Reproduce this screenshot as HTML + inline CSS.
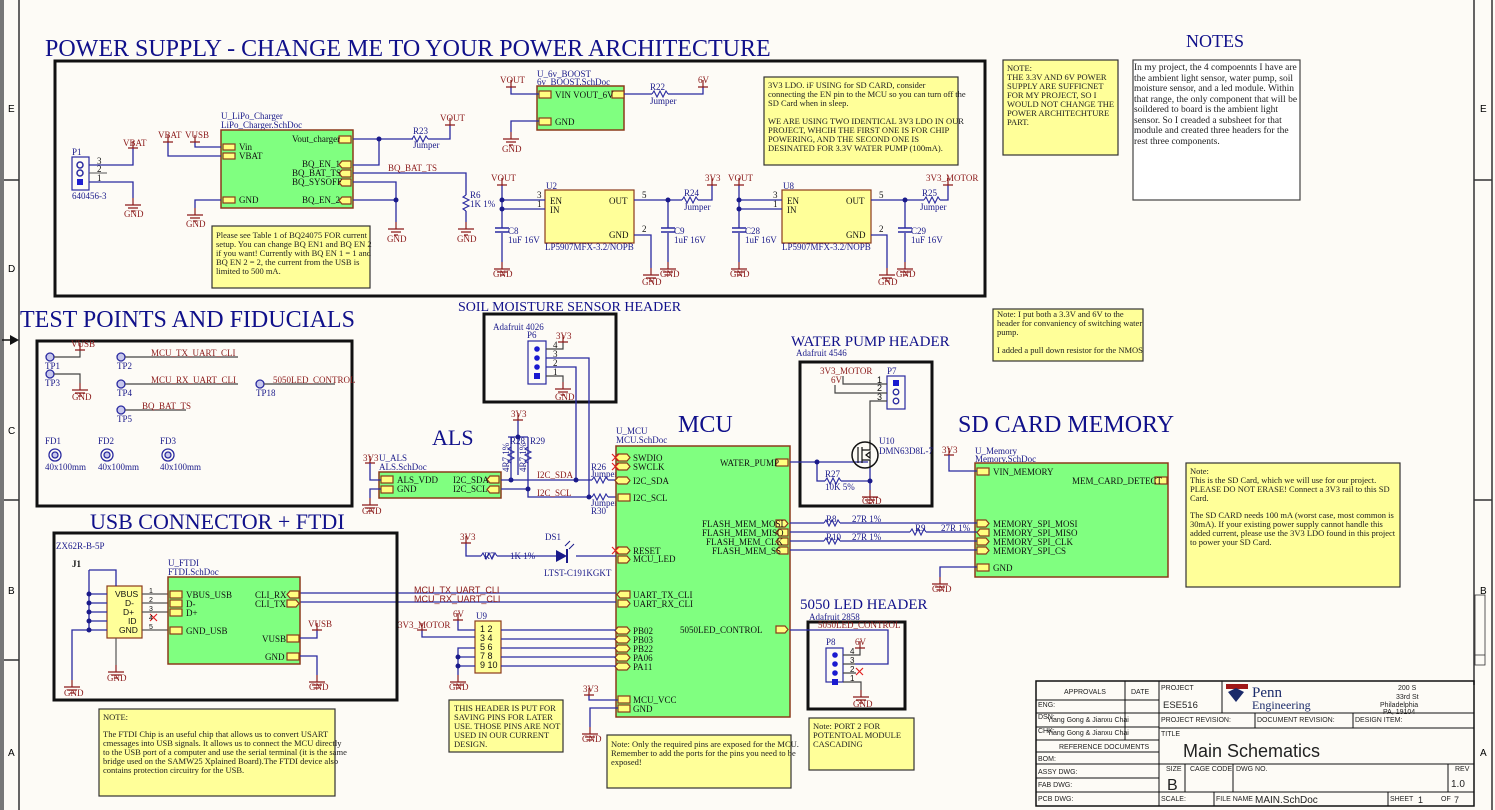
<!DOCTYPE html>
<html><head><meta charset="utf-8"><style>
html,body{margin:0;padding:0;background:#fdfbf6;}
svg{display:block}
text{font-family:"Liberation Serif",serif;}
.s,.s text{font-family:"Liberation Sans",sans-serif;}
.w{stroke:#2a2aa0;stroke-width:1.3;fill:none}
.r{stroke:#8b1a1a;stroke-width:1.2;fill:none}
.nl{fill:#8b1a1a;font-size:9px}
.bl{fill:#1a1a8a;font-size:9px}
.tt{fill:#10108a}
.cmp{fill:#80ff80;stroke:#8b3a1a;stroke-width:1.5}
.pin{fill:#ffff80;stroke:#8b3a1a;stroke-width:1.2}
.note{fill:#ffff99;stroke:#333;stroke-width:1.2}
.nt{fill:#222;font-size:8.5px}
.box{fill:none;stroke:#111;stroke-width:3}
.ic{fill:#ffff99;stroke:#8b3a1a;stroke-width:1.2}
.bk{fill:#111;font-size:9px}
</style></head><body>
<svg width="1495" height="810" viewBox="0 0 1495 810" xmlns="http://www.w3.org/2000/svg">
<defs>
<g id="g"><path d="M0 0V7M-8 7H8M-5 10H5M-2 13H2" stroke="#8b1a1a" stroke-width="1.2" fill="none"/></g>
<g id="p"><path d="M-5 0H5M0 0V7" stroke="#8b1a1a" stroke-width="1.2" fill="none"/></g>
<g id="res"><path d="M-8 0l2-3 3 6 3-6 3 6 3-6 2 3" stroke="#2a2aa0" stroke-width="1.1" fill="none"/></g>
<g id="rv"><path d="M0 -8l-3 2 6 3-6 3 6 3-6 3 3 2" stroke="#2a2aa0" stroke-width="1.1" fill="none"/></g>
<g id="cap"><path d="M-7 0H7M-7 4H7" stroke="#2a2aa0" stroke-width="1.5"/></g>
<g id="dot"><circle r="2.5" fill="#1a1a8a"/></g>
</defs>

<!-- frame -->
<rect x="0" y="0" width="4" height="810" fill="#777"/>
<path d="M19 0V810M1474 0V685M1492 0V810" stroke="#333" stroke-width="1.5"/>
<path d="M4 180H19M4 500H19M4 660H19M1474 180H1492M1474 500H1492" stroke="#333" stroke-width="1.5"/>
<path d="M2 340H14" stroke="#111" stroke-width="1.5"/><path d="M10 335L19 340L10 345Z" fill="#111"/>
<text class="s" x="8" y="112" font-size="10">E</text>
<text class="s" x="8" y="272" font-size="10">D</text>
<text class="s" x="8" y="434" font-size="10">C</text>
<text class="s" x="8" y="594" font-size="10">B</text>
<text class="s" x="8" y="756" font-size="10">A</text>
<text class="s" x="1480" y="112" font-size="10">E</text>
<text class="s" x="1480" y="594" font-size="10">B</text>
<text class="s" x="1480" y="756" font-size="10">A</text>
<rect x="1475" y="595" width="10" height="70" fill="none" stroke="#333" stroke-width="0.8"/>
<path d="M1475 655H1485" stroke="#333" stroke-width="0.8"/>

<!-- POWER SUPPLY -->
<text class="tt" x="45" y="56" font-size="24">POWER SUPPLY - CHANGE ME TO YOUR POWER ARCHITECTURE</text>
<rect class="box" x="55" y="61" width="930" height="235"/>
<text class="bl" x="72" y="155">P1</text>
<rect x="72" y="157" width="17" height="33" fill="none" stroke="#2a2aa0" stroke-width="1.2"/>
<circle cx="80" cy="165" r="3" fill="none" stroke="#2a2aa0" stroke-width="1.5"/>
<circle cx="80" cy="173" r="3" fill="none" stroke="#2a2aa0" stroke-width="1.5"/>
<rect x="77" y="179" width="6" height="6" fill="#2020d0"/>
<text class="bk" x="97" y="164" font-size="8">3</text><text class="bk" x="97" y="172" font-size="8">2</text><text class="bk" x="97" y="181" font-size="8">1</text>
<text class="bl" x="72" y="199" font-size="8">640456-3</text>
<path class="w" d="M89 165H133V148M89 182H133V198"/><path d="M89 173H107" stroke="#555"/>
<use href="#p" x="133" y="148" transform="rotate(180 133 148)"/>
<text class="nl" x="123" y="146">VBAT</text>
<use href="#g" x="133" y="198"/><text class="nl" x="124" y="217">GND</text>
<text class="bl" x="221" y="119">U_LiPo_Charger</text>
<text class="bl" x="221" y="128">LiPo_Charger.SchDoc</text>
<rect class="cmp" x="221" y="130" width="132" height="78"/>
<rect class="pin" x="223" y="144" width="12" height="6"/><rect class="pin" x="223" y="153" width="12" height="6"/>
<rect class="pin" x="223" y="197" width="12" height="6"/>
<rect class="pin" x="339" y="136" width="12" height="7"/>
<path class="pin" d="M342 161h9v7h-9l-3-3.5z"/><path class="pin" d="M342 170h9v7h-9l-3-3.5z"/><path class="pin" d="M342 179h9v7h-9l-3-3.5z"/><path class="pin" d="M342 197h9v7h-9l-3-3.5z"/>
<text class="bk" x="239" y="150">Vin</text><text class="bk" x="239" y="159">VBAT</text><text class="bk" x="239" y="203">GND</text>
<text class="bk" x="292" y="142">Vout_charger</text>
<text class="bk" x="302" y="167">BQ_EN_1</text><text class="bk" x="292" y="176">BQ_BAT_TS</text><text class="bk" x="292" y="185">BQ_SYSOFF</text><text class="bk" x="302" y="203">BQ_EN_2</text>
<path class="w" d="M168 142V156H221M195 142V147H221M221 200H195V208M353 139H413M379 139V165H353M353 173H466V195M353 182H396V222M353 200H396M428 139H450V125"/>
<use href="#dot" x="379" y="139"/><use href="#dot" x="396" y="200"/>
<use href="#p" x="168" y="142" transform="rotate(180 168 142)"/><text class="nl" x="158" y="138">VBAT</text>
<use href="#p" x="195" y="142" transform="rotate(180 195 142)"/><text class="nl" x="185" y="138">VUSB</text>
<use href="#g" x="195" y="208"/><text class="nl" x="186" y="227">GND</text>
<use href="#res" x="420" y="139"/><text class="bl" x="413" y="134">R23</text><text class="bl" x="413" y="148">Jumper</text>
<use href="#p" x="450" y="125" transform="rotate(180 450 125)"/><text class="nl" x="440" y="121">VOUT</text>
<text class="nl" x="388" y="171">BQ_BAT_TS</text>
<use href="#rv" x="466" y="203"/><path class="w" d="M466 211V222"/><text class="bl" x="470" y="198">R6</text><text class="bl" x="470" y="207">1K 1%</text>
<use href="#g" x="466" y="222"/><text class="nl" x="457" y="242">GND</text>
<use href="#g" x="396" y="222"/><text class="nl" x="387" y="242">GND</text>
<rect class="note" x="212" y="226" width="158" height="62"/>
<text class="nt" x="216" y="238">Please see Table 1 of BQ24075 FOR current</text>
<text class="nt" x="216" y="247">setup. You can change BQ EN1 and BQ EN 2</text>
<text class="nt" x="216" y="256">if you want! Currently with BQ EN 1 = 1 and</text>
<text class="nt" x="216" y="265">BQ EN 2 = 2, the current from the USB is</text>
<text class="nt" x="216" y="274">limited to 500 mA.</text>
<text class="bl" x="537" y="77">U_6v_BOOST</text><text class="bl" x="537" y="85">6v_BOOST.SchDoc</text>
<rect class="cmp" x="537" y="86" width="87" height="44"/>
<rect class="pin" x="539" y="91" width="12" height="7"/><rect class="pin" x="612" y="91" width="12" height="7"/><rect class="pin" x="539" y="118" width="12" height="7"/>
<text class="bk" x="555" y="98">VIN  VOUT_6V</text><text class="bk" x="555" y="125">GND</text>
<path class="w" d="M511 87V94H539M624 94H652M668 94H703V87M539 121H511V132"/>
<use href="#p" x="511" y="87" transform="rotate(180 511 87)"/><text class="nl" x="500" y="83">VOUT</text>
<use href="#res" x="660" y="94"/><text class="bl" x="650" y="90">R22</text><text class="bl" x="650" y="104">Jumper</text>
<use href="#p" x="703" y="87" transform="rotate(180 703 87)"/><text class="nl" x="698" y="83">6V</text>
<use href="#g" x="511" y="132"/><text class="nl" x="502" y="152">GND</text>
<rect class="note" x="764" y="77" width="194" height="88"/>
<text class="nt" x="768" y="88">3V3  LDO. iF USING for SD CARD, consider</text>
<text class="nt" x="768" y="97">connecting the EN pin to the MCU so you can turn off the</text>
<text class="nt" x="768" y="106">SD Card when in sleep.</text>
<text class="nt" x="768" y="124">WE ARE USING TWO IDENTICAL 3V3 LDO IN OUR</text>
<text class="nt" x="768" y="133">PROJECT, WHCIH THE FIRST ONE IS FOR CHIP</text>
<text class="nt" x="768" y="142">POWERING, AND THE SECOND ONE IS</text>
<text class="nt" x="768" y="151">DESINATED FOR 3.3V WATER PUMP (100mA).</text>
<rect class="ic" x="545" y="190" width="89" height="53"/>
<text class="bl" x="546" y="189">U2</text>
<text class="bk" x="550" y="204">EN</text><text class="bk" x="550" y="213">IN</text><text class="bk" x="609" y="204">OUT</text><text class="bk" x="609" y="238">GND</text>
<text class="bl" x="545" y="250">LP5907MFX-3.2/NOPB</text>
<text class="bk" x="537" y="198" font-size="8">3</text><text class="bk" x="537" y="207" font-size="8">1</text><text class="bk" x="642" y="198" font-size="8">5</text><text class="bk" x="642" y="232" font-size="8">2</text>
<path class="w" d="M502 185V200H545M502 209H545M502 200V228M502 233V262M634 200H682M698 200H712V185M668 200V228M668 233V262M634 235H651V268"/>
<use href="#dot" x="502" y="200"/><use href="#dot" x="502" y="209"/><use href="#dot" x="668" y="200"/>
<use href="#p" x="502" y="185" transform="rotate(180 502 185)"/><text class="nl" x="491" y="181">VOUT</text>
<use href="#cap" x="502" y="228"/><text class="bl" x="508" y="234">C8</text><text class="bl" x="508" y="243">1uF 16V</text>
<use href="#cap" x="668" y="228"/><text class="bl" x="674" y="234">C9</text><text class="bl" x="674" y="243">1uF 16V</text>
<use href="#res" x="690" y="200"/><text class="bl" x="684" y="196">R24</text><text class="bl" x="684" y="210">Jumper</text>
<use href="#p" x="712" y="185" transform="rotate(180 712 185)"/><text class="nl" x="705" y="181">3V3</text>
<use href="#g" x="502" y="262"/><text class="nl" x="493" y="277">GND</text>
<use href="#g" x="668" y="262"/><text class="nl" x="660" y="277">GND</text>
<use href="#g" x="651" y="268"/><text class="nl" x="642" y="285">GND</text>
<rect class="ic" x="782" y="190" width="89" height="53"/>
<text class="bl" x="783" y="189">U8</text>
<text class="bk" x="787" y="204">EN</text><text class="bk" x="787" y="213">IN</text><text class="bk" x="846" y="204">OUT</text><text class="bk" x="846" y="238">GND</text>
<text class="bl" x="782" y="250">LP5907MFX-3.2/NOPB</text>
<text class="bk" x="773" y="198" font-size="8">3</text><text class="bk" x="773" y="207" font-size="8">1</text><text class="bk" x="879" y="198" font-size="8">5</text><text class="bk" x="879" y="232" font-size="8">2</text>
<path class="w" d="M739 185V200H782M739 209H782M739 200V228M739 233V262M871 200H924M940 200H948V185M905 200V228M905 233V262M871 235H887V268"/>
<use href="#dot" x="739" y="200"/><use href="#dot" x="739" y="209"/><use href="#dot" x="905" y="200"/>
<use href="#p" x="739" y="185" transform="rotate(180 739 185)"/><text class="nl" x="728" y="181">VOUT</text>
<use href="#cap" x="739" y="228"/><text class="bl" x="745" y="234">C28</text><text class="bl" x="745" y="243">1uF 16V</text>
<use href="#cap" x="905" y="228"/><text class="bl" x="911" y="234">C29</text><text class="bl" x="911" y="243">1uF 16V</text>
<use href="#res" x="932" y="200"/><text class="bl" x="922" y="196">R25</text><text class="bl" x="920" y="210">Jumper</text>
<use href="#p" x="948" y="185" transform="rotate(180 948 185)"/><text class="nl" x="926" y="181">3V3_MOTOR</text>
<use href="#g" x="739" y="262"/><text class="nl" x="730" y="277">GND</text>
<use href="#g" x="905" y="262"/><text class="nl" x="896" y="277">GND</text>
<use href="#g" x="887" y="268"/><text class="nl" x="878" y="285">GND</text>

<!-- NOTES -->
<rect class="note" x="1003" y="60" width="115" height="95"/>
<text class="nt" x="1007" y="71">NOTE:</text>
<text class="nt" x="1007" y="80">THE 3.3V AND 6V POWER</text>
<text class="nt" x="1007" y="89">SUPPLY ARE SUFFICNET</text>
<text class="nt" x="1007" y="98">FOR MY PROJECT, SO I</text>
<text class="nt" x="1007" y="107">WOULD NOT CHANGE THE</text>
<text class="nt" x="1007" y="116">POWER ARCHITECHTURE</text>
<text class="nt" x="1007" y="125">PART.</text>
<text class="tt" x="1186" y="47" font-size="18">NOTES</text>
<rect x="1133" y="60" width="167" height="140" fill="#fff" stroke="#444" stroke-width="1.2"/>
<g class="nt"><text x="1134" y="70" font-size="9.5">In my project, the 4 compoennts I have are</text>
<text x="1134" y="81" font-size="9.5">the ambient light sensor, water pump, soil</text>
<text x="1134" y="91" font-size="9.5">moisture sensor, and a led module. Within</text>
<text x="1134" y="102" font-size="9.5">that range, the only component that will be</text>
<text x="1134" y="112" font-size="9.5">soildered to board is the ambient light</text>
<text x="1134" y="123" font-size="9.5">sensor. So I creaded a subsheet for that</text>
<text x="1134" y="133" font-size="9.5">module and created three headers for the</text>
<text x="1134" y="144" font-size="9.5">rest three components.</text></g>

<!-- TEST POINTS -->
<text class="tt" x="20" y="327" font-size="24">TEST POINTS AND FIDUCIALS</text>
<rect class="box" x="37" y="341" width="315" height="165"/>
<g fill="none" stroke="#2a2aa0" stroke-width="1.3">
<circle cx="50" cy="357" r="4" fill="#c8c8ec"/><circle cx="50" cy="374" r="4" fill="#c8c8ec"/>
<circle cx="121" cy="357" r="4" fill="#c8c8ec"/><circle cx="121" cy="384" r="4" fill="#c8c8ec"/><circle cx="121" cy="410" r="4" fill="#c8c8ec"/>
<circle cx="260" cy="384" r="4" fill="#c8c8ec"/>
<circle cx="55" cy="455" r="6"/><circle cx="55" cy="455" r="3" fill="#c8c8ec"/>
<circle cx="107" cy="455" r="6"/><circle cx="107" cy="455" r="3" fill="#c8c8ec"/>
<circle cx="168" cy="455" r="6"/><circle cx="168" cy="455" r="3" fill="#c8c8ec"/>
</g>
<path d="M54 357H80V350M54 374H80V383M125 357H238M125 384H238M125 410H186M264 384H335" stroke="#444" stroke-width="1.2" fill="none"/>
<use href="#p" x="80" y="350" transform="rotate(180 80 350)"/><text class="nl" x="71" y="347">VUSB</text>
<use href="#g" x="80" y="383"/><text class="nl" x="72" y="400">GND</text>
<text class="bl" x="45" y="369">TP1</text><text class="bl" x="45" y="386">TP3</text><text class="bl" x="117" y="369">TP2</text><text class="bl" x="117" y="396">TP4</text><text class="bl" x="117" y="422">TP5</text><text class="bl" x="256" y="396">TP18</text>
<text class="nl" x="151" y="356">MCU_TX_UART_CLI</text><text class="nl" x="151" y="383">MCU_RX_UART_CLI</text><text class="nl" x="142" y="409">BQ_BAT_TS</text><text class="nl" x="273" y="383">5050LED_CONTROL</text>
<text class="bl" x="45" y="444">FD1</text><text class="bl" x="98" y="444">FD2</text><text class="bl" x="160" y="444">FD3</text>
<text class="bl" x="45" y="470">40x100mm</text><text class="bl" x="98" y="470">40x100mm</text><text class="bl" x="160" y="470">40x100mm</text>

<!-- SOIL -->
<text class="tt" x="458" y="311" font-size="14">SOIL MOISTURE SENSOR HEADER</text>
<rect class="box" x="484" y="314" width="132" height="88"/>
<text class="bl" x="493" y="330">Adafruit 4026</text><text class="bl" x="527" y="338">P6</text>
<rect x="528" y="341" width="18" height="43" fill="none" stroke="#2a2aa0" stroke-width="1.2"/>
<circle cx="537" cy="349" r="2.8" fill="#1a1ad0"/><circle cx="537" cy="358" r="2.8" fill="#1a1ad0"/><circle cx="537" cy="367" r="2.8" fill="#1a1ad0"/><rect x="534" y="373" width="6" height="6" fill="#1a1ad0"/>
<text class="bk" x="553" y="348" font-size="8">4</text><text class="bk" x="553" y="357" font-size="8">3</text><text class="bk" x="553" y="366" font-size="8">2</text><text class="bk" x="553" y="375" font-size="8">1</text>
<path d="M546 349H563V342M546 376H563V382" stroke="#444" stroke-width="1.2" fill="none"/>
<path class="w" d="M546 358H589V497M546 367H576V480"/>
<use href="#p" x="563" y="342" transform="rotate(180 563 342)"/><text class="nl" x="556" y="339">3V3</text>
<use href="#g" x="563" y="382"/><text class="nl" x="555" y="400">GND</text>

<!-- ALS -->
<text class="tt" x="432" y="445" font-size="22">ALS</text>
<text class="bl" x="379" y="461">U_ALS</text><text class="bl" x="379" y="470">ALS.SchDoc</text>
<use href="#p" x="370" y="463" transform="rotate(180 370 463)"/><text class="nl" x="363" y="461">3V3</text>
<rect class="cmp" x="379" y="472" width="122" height="26"/>
<rect class="pin" x="381" y="476" width="12" height="7"/><rect class="pin" x="381" y="486" width="12" height="7"/>
<path class="pin" d="M490 476h9v7h-9l-3-3.5z"/><path class="pin" d="M490 486h9v7h-9l-3-3.5z"/>
<text class="bk" x="397" y="483">ALS_VDD</text><text class="bk" x="397" y="492">GND</text><text class="bk" x="453" y="483">I2C_SDA</text><text class="bk" x="453" y="492">I2C_SCL</text>
<path class="w" d="M370 463V480H381M381 489H370V498M501 480H592M608 480H616M501 489H528V497H592M608 497H616M518 437V475M528 437V489M508 437H528M518 420V437"/>
<use href="#dot" x="511" y="480"/><use href="#dot" x="528" y="489"/><use href="#dot" x="576" y="480"/><use href="#dot" x="589" y="497"/><use href="#dot" x="518" y="437"/>
<path class="w" d="M511 437V480"/>
<use href="#rv" x="511" y="455"/><use href="#rv" x="528" y="455"/>
<use href="#g" x="370" y="498"/><text class="nl" x="362" y="514">GND</text>
<use href="#p" x="518" y="420" transform="rotate(180 518 420)"/><text class="nl" x="511" y="417">3V3</text>
<text class="bl" x="510" y="444">R28</text><text class="bl" x="530" y="444">R29</text>
<text class="bl" x="509" y="472" transform="rotate(-90 509 472)">4R7 1%</text><text class="bl" x="526" y="472" transform="rotate(-90 526 472)">4R7 1%</text>
<text class="nl" x="537" y="478">I2C_SDA</text><text class="nl" x="537" y="496">I2C_SCL</text>
<use href="#res" x="600" y="480"/><use href="#res" x="600" y="497"/>
<text class="bl" x="591" y="470">R26</text><text class="bl" x="591" y="477">Jumper</text><text class="bl" x="591" y="506">Jumper</text><text class="bl" x="591" y="514">R30</text>

<!-- MCU -->
<text class="tt" x="678" y="432" font-size="24">MCU</text>
<text class="bl" x="616" y="434">U_MCU</text><text class="bl" x="616" y="443">MCU.SchDoc</text>
<rect class="cmp" x="616" y="446" width="174" height="271"/>
<g class="pin">
<path d="M618 454h9l3 3.5-3 3.5h-9l-3-3.5z"/><path d="M618 463h9l3 3.5-3 3.5h-9l-3-3.5z"/>
<path d="M618 477h9l3 3.5-3 3.5h-9l-3-3.5z"/><rect x="618" y="494" width="12" height="7"/>
<path d="M618 547h9l3 3.5-3 3.5h-9l-3-3.5z"/><path d="M618 556h9l3 3.5-3 3.5h-9z"/>
<path d="M620 591h10v7h-10l-3-3.5z"/><path d="M618 600h9l3 3.5-3 3.5h-9z"/>
<path d="M618 627h9l3 3.5-3 3.5h-9l-3-3.5z"/><path d="M618 636h9l3 3.5-3 3.5h-9l-3-3.5z"/><path d="M618 645h9l3 3.5-3 3.5h-9l-3-3.5z"/><path d="M618 654h9l3 3.5-3 3.5h-9l-3-3.5z"/><path d="M618 663h9l3 3.5-3 3.5h-9l-3-3.5z"/>
<rect x="618" y="696" width="12" height="7"/><rect x="618" y="705" width="12" height="7"/>
<rect x="776" y="459" width="12" height="7"/>
<path d="M776 520h9l3 3.5-3 3.5h-9z"/><path d="M779 529h9v7h-9l-3-3.5z"/><path d="M779 538h9v7h-9l-3-3.5z"/><path d="M779 547h9v7h-9l-3-3.5z"/>
<path d="M776 626h9l3 3.5-3 3.5h-9z"/>
</g>
<g class="bk"><text x="633" y="461">SWDIO</text><text x="633" y="470">SWCLK</text><text x="633" y="484">I2C_SDA</text><text x="633" y="501">I2C_SCL</text>
<text x="633" y="554">RESET</text><text x="633" y="562">MCU_LED</text><text x="633" y="598">UART_TX_CLI</text><text x="633" y="607">UART_RX_CLI</text>
<text x="633" y="634">PB02</text><text x="633" y="643">PB03</text><text x="633" y="652">PB22</text><text x="633" y="661">PA06</text><text x="633" y="670">PA11</text>
<text x="633" y="703">MCU_VCC</text><text x="633" y="712">GND</text>
<text x="720" y="466">WATER_PUMP</text><text x="702" y="527">FLASH_MEM_MOSI</text><text x="702" y="536">FLASH_MEM_MISO</text><text x="706" y="545">FLASH_MEM_CLK</text><text x="712" y="554">FLASH_MEM_SS</text><text x="680" y="633">5050LED_CONTROL</text></g>
<g stroke="#e02020" stroke-width="1.2"><path d="M612 454l7 7M619 454l-7 7M612 463l7 7M619 463l-7 7M612 547l7 7M619 547l-7 7M1155 477l7 7M1162 477l-7 7M150 614l7 7M157 614l-7 7M856 668l7 7M863 668l-7 7"/></g>
<path class="w" d="M466 543V556H481M497 556H556M576 556H616"/>
<use href="#p" x="466" y="543" transform="rotate(180 466 543)"/><text class="nl" x="460" y="540">3V3</text>
<use href="#res" x="489" y="556"/><text class="bl" x="484" y="559">R7</text><text class="bl" x="510" y="559">1K 1%</text>
<path d="M556 550L567 556L556 562Z" fill="#1a1a8a"/><path d="M567 549V563" stroke="#1a1a8a" stroke-width="2"/>
<path d="M565 546l5-5M569 549l5-5" stroke="#1a1a8a"/>
<text class="bl" x="545" y="540">DS1</text><text class="bl" x="544" y="576">LTST-C191KGKT</text>
<path class="w" d="M300 593H616M300 602H616"/>
<text class="nl s" x="414" y="593" font-size="8.5">MCU_TX_UART_CLI</text><text class="nl s" x="414" y="602" font-size="8.5">MCU_RX_UART_CLI</text>
<rect class="ic" x="475" y="621" width="26" height="52"/>
<text class="bl" x="476" y="619">U9</text>
<g class="bk s"><text x="480" y="632" font-size="9">1  2</text><text x="480" y="641" font-size="9">3  4</text><text x="480" y="650" font-size="9">5  6</text><text x="480" y="659" font-size="9">7  8</text><text x="480" y="668" font-size="9">9 10</text></g>
<path class="w" d="M501 630H616M501 639H616M501 648H616M501 657H616M501 666H616M475 637H422V630M475 648H458V675M475 657H458M475 666H458"/>
<path class="w" d="M475 630H458V620"/>
<use href="#dot" x="458" y="657"/><use href="#dot" x="458" y="666"/>
<use href="#p" x="458" y="620" transform="rotate(180 458 620)"/><text class="nl" x="453" y="617">6V</text>
<use href="#p" x="422" y="630" transform="rotate(180 422 630)"/><text class="nl" x="398" y="628">3V3_MOTOR</text>
<use href="#g" x="458" y="675"/><text class="nl" x="449" y="690">GND</text>
<path class="w" d="M589 695V700H618M618 708H590V727"/>
<use href="#p" x="589" y="695" transform="rotate(180 589 695)"/><text class="nl" x="583" y="692">3V3</text>
<use href="#g" x="590" y="727"/><text class="nl" x="582" y="742">GND</text>
<rect class="note" x="449" y="700" width="114" height="52"/>
<text class="nt" x="454" y="711">THIS HEADER IS PUT FOR</text><text class="nt" x="454" y="720">SAVING PINS FOR LATER</text><text class="nt" x="454" y="729">USE. THOSE PINS ARE NOT</text><text class="nt" x="454" y="738">USED IN OUR CURRENT</text><text class="nt" x="454" y="747">DESIGN.</text>
<rect class="note" x="607" y="735" width="184" height="53"/>
<text class="nt" x="611" y="747">Note: Only the required pins are exposed for the MCU.</text><text class="nt" x="611" y="756">Remember to add the ports for the pins you need to be</text><text class="nt" x="611" y="765">exposed!</text>

<!-- WATER PUMP -->
<text class="tt" x="791" y="346" font-size="15">WATER PUMP HEADER</text>
<text class="bl" x="796" y="356">Adafruit 4546</text>
<rect class="box" x="800" y="362" width="132" height="144"/>
<text class="nl" x="820" y="374">3V3_MOTOR</text><text class="nl" x="831" y="383">6V</text><text class="bl" x="887" y="374">P7</text>
<rect x="887" y="376" width="18" height="33" fill="none" stroke="#2a2aa0" stroke-width="1.2"/>
<rect x="893" y="380" width="6" height="6" fill="#1a1ad0"/><circle cx="896" cy="392" r="2.8" fill="none" stroke="#2a2aa0" stroke-width="1.3"/><circle cx="896" cy="401" r="2.8" fill="none" stroke="#2a2aa0" stroke-width="1.3"/>
<text class="bk s" x="877" y="383" font-size="8">1</text><text class="bk s" x="877" y="391" font-size="8">2</text><text class="bk s" x="877" y="400" font-size="8">3</text>
<path d="M843 376V384H887M835 385V393H887M887 401H870V440" stroke="#444" stroke-width="1.2" fill="none"/>
<path class="w" d="M790 462H868M817 462V481H825M841 481H870V468M870 481V490"/>
<use href="#dot" x="817" y="462"/><use href="#dot" x="870" y="481"/>
<circle cx="865" cy="455" r="13" fill="none" stroke="#111" stroke-width="1.5"/>
<path d="M858 447V463M862 447V463M862 450H870V440M862 460H870V468M866 455l4-3v6z" stroke="#111" stroke-width="1.2" fill="none"/>
<text class="bl" x="879" y="444">U10</text><text class="bl" x="879" y="454">DMN63D8L-7</text>
<use href="#res" x="833" y="481"/><text class="bl" x="825" y="477">R27</text><text class="bl" x="825" y="490">10K 5%</text>
<use href="#g" x="870" y="490"/><text class="nl" x="862" y="504">GND</text>
<rect class="note" x="993" y="309" width="150" height="52"/>
<text class="nt" x="997" y="317">Note: I put both a 3.3V and 6V to the</text><text class="nt" x="997" y="326">header for convaniency of switching water</text><text class="nt" x="997" y="335">pump.</text><text class="nt" x="997" y="353">I added a pull down resistor for the NMOS</text>

<!-- SD CARD -->
<text class="tt" x="958" y="432" font-size="24">SD CARD MEMORY</text>
<text class="bl" x="975" y="454">U_Memory</text><text class="bl" x="975" y="462">Memory.SchDoc</text>
<use href="#p" x="949" y="455" transform="rotate(180 949 455)"/><text class="nl" x="942" y="453">3V3</text>
<rect class="cmp" x="975" y="463" width="193" height="114"/>
<rect class="pin" x="977" y="468" width="12" height="7"/><rect class="pin" x="1155" y="477" width="12" height="7"/><rect class="pin" x="977" y="564" width="12" height="7"/>
<g class="pin"><path d="M977 520h9l3 3.5-3 3.5h-9z"/><path d="M980 529h9v7h-9l-3-3.5z"/><path d="M977 538h9l3 3.5-3 3.5h-9z"/><path d="M977 547h9l3 3.5-3 3.5h-9z"/></g>
<g class="bk"><text x="993" y="475">VIN_MEMORY</text><text x="1072" y="484">MEM_CARD_DETECT</text><text x="993" y="527">MEMORY_SPI_MOSI</text><text x="993" y="536">MEMORY_SPI_MISO</text><text x="993" y="545">MEMORY_SPI_CLK</text><text x="993" y="554">MEMORY_SPI_CS</text><text x="993" y="571">GND</text></g>
<path class="w" d="M949 455V471H977M790 523H824M840 523H977M790 532H910M926 532H977M790 541H824M840 541H977M790 550H977M977 567H940V577"/>
<use href="#res" x="832" y="523"/><use href="#res" x="918" y="532"/><use href="#res" x="832" y="541"/>
<text class="bl" x="826" y="522">R8</text><text class="bl" x="852" y="522">27R 1%</text><text class="bl" x="915" y="531">R9</text><text class="bl" x="941" y="531">27R 1%</text><text class="bl" x="826" y="540">R10</text><text class="bl" x="852" y="540">27R 1%</text>
<use href="#g" x="940" y="577"/><text class="nl" x="932" y="592">GND</text>
<rect class="note" x="1186" y="463" width="214" height="124"/>
<text class="nt" x="1190" y="474">Note:</text><text class="nt" x="1190" y="483">This is the SD Card, which we will use for our project.</text><text class="nt" x="1190" y="492">PLEASE DO NOT ERASE! Connect a 3V3 rail to this SD</text><text class="nt" x="1190" y="501">Card.</text>
<text class="nt" x="1190" y="518">The SD CARD needs 100 mA (worst case, most common is</text><text class="nt" x="1190" y="527">30mA). If your existing power supply cannot handle this</text><text class="nt" x="1190" y="536">added current, please use the 3V3 LDO found in this project</text><text class="nt" x="1190" y="545">to power your SD Card.</text>

<!-- 5050 LED -->
<text class="tt" x="800" y="609" font-size="15">5050 LED HEADER</text>
<text class="bl" x="809" y="620">Adafruit 2858</text>
<rect class="box" x="808" y="622" width="97" height="87"/>
<text class="nl" x="818" y="628">5050LED_CONTROL</text>
<path class="w" d="M790 630H888V664H855"/>
<text class="bl" x="826" y="645">P8</text>
<rect x="826" y="648" width="17" height="34" fill="none" stroke="#2a2aa0" stroke-width="1.2"/>
<circle cx="835" cy="655" r="2.8" fill="#1a1ad0"/><circle cx="835" cy="664" r="2.8" fill="#1a1ad0"/><circle cx="835" cy="673" r="2.8" fill="#1a1ad0"/><rect x="832" y="679" width="6" height="6" fill="#1a1ad0"/>
<g class="bk s"><text x="850" y="654" font-size="8">4</text><text x="850" y="663" font-size="8">3</text><text x="850" y="672" font-size="8">2</text><text x="850" y="681" font-size="8">1</text></g>
<path d="M843 655H860V648M843 664H855M843 673H856M843 682H861V690" stroke="#444" stroke-width="1.2" fill="none"/>
<use href="#p" x="860" y="648" transform="rotate(180 860 648)"/><text class="nl" x="855" y="645">6V</text>
<use href="#g" x="861" y="690"/><text class="nl" x="853" y="707">GND</text>
<rect class="note" x="809" y="718" width="105" height="52"/>
<text class="nt" x="813" y="729">Note: PORT 2 FOR</text><text class="nt" x="813" y="738">POTENTOAL MODULE</text><text class="nt" x="813" y="747">CASCADING</text>

<!-- USB -->
<text class="tt" x="90" y="529" font-size="22">USB CONNECTOR + FTDI</text>
<rect class="box" x="54" y="533" width="343" height="167"/>
<text class="bl" x="56" y="549">ZX62R-B-5P</text><text class="bk" x="72" y="567" font-weight="bold">J1</text>
<rect class="ic" x="107" y="586" width="35" height="52"/>
<g class="bk s"><text x="115" y="597" font-size="8.5">VBUS</text><text x="125" y="606" font-size="8.5">D-</text><text x="123" y="615" font-size="8.5">D+</text><text x="128" y="624" font-size="8.5">ID</text><text x="119" y="633" font-size="8.5">GND</text></g>
<g class="bk s"><text x="149" y="593" font-size="7">1</text><text x="149" y="602" font-size="7">2</text><text x="149" y="611" font-size="7">3</text><text x="149" y="620" font-size="7">4</text><text x="149" y="629" font-size="7">5</text></g>
<path class="w" d="M89 570H116V586M89 570V630M89 594H107M89 603H107M89 612H107M89 621H107M89 630H107M89 630H72V680"/>
<use href="#dot" x="89" y="594"/><use href="#dot" x="89" y="603"/><use href="#dot" x="89" y="612"/><use href="#dot" x="89" y="621"/><use href="#dot" x="89" y="630"/>
<path d="M142 594H170M142 603H170M142 612H170M142 630H170M116 638V665" stroke="#555" stroke-width="1.2"/>
<use href="#g" x="116" y="665"/><text class="nl" x="107" y="681">GND</text>
<use href="#g" x="72" y="680"/><text class="nl" x="64" y="696">GND</text>
<text class="bl" x="168" y="566">U_FTDI</text><text class="bl" x="168" y="575">FTDI.SchDoc</text>
<rect class="cmp" x="168" y="577" width="132" height="87"/>
<rect class="pin" x="170" y="591" width="12" height="7"/><rect class="pin" x="170" y="600" width="12" height="7"/><rect class="pin" x="170" y="609" width="12" height="7"/><rect class="pin" x="170" y="627" width="12" height="7"/>
<path class="pin" d="M290 591h9v7h-9l-3-3.5z"/><path class="pin" d="M287 600h9l3 3.5-3 3.5h-9z"/>
<rect class="pin" x="287" y="635" width="12" height="7"/><rect class="pin" x="287" y="653" width="12" height="7"/>
<g class="bk"><text x="186" y="598">VBUS_USB</text><text x="186" y="607">D-</text><text x="186" y="616">D+</text><text x="186" y="634">GND_USB</text><text x="255" y="598">CLI_RX</text><text x="255" y="607">CLI_TX</text><text x="262" y="642">VUSB</text><text x="265" y="660">GND</text></g>
<path class="w" d="M300 638H317V630M300 656H317V675"/>
<use href="#p" x="317" y="630" transform="rotate(180 317 630)"/><text class="nl" x="308" y="627">VUSB</text>
<use href="#g" x="317" y="675"/><text class="nl" x="309" y="690">GND</text>
<rect class="note" x="99" y="709" width="236" height="87"/>
<text class="nt" x="103" y="720">NOTE:</text>
<text class="nt" x="103" y="737">The FTDI Chip is an useful chip that allows us to convert USART</text>
<text class="nt" x="103" y="746">cmessages into USB signals. It allows us to connect the MCU directly</text>
<text class="nt" x="103" y="755">to the USB port of a computer and use the serial terminal (it is the same</text>
<text class="nt" x="103" y="764">bridge used on the SAMW25 Xplained Board).The FTDI device also</text>
<text class="nt" x="103" y="773">contains protection circuitry for the USB.</text>

<!-- TITLE BLOCK -->
<g fill="none" stroke="#111" stroke-width="1">
<rect x="1036" y="681" width="438" height="125" stroke-width="1.5"/>
<path d="M1036 700H1159M1036 713H1159M1036 727H1159M1036 740H1159M1036 752H1159M1036 764H1159M1036 778H1159M1036 792H1159M1159 681V806M1125 681V740"/>
<path d="M1159 713H1474M1159 728H1474M1159 764H1474M1159 792H1474M1222 681V713M1255 713V728M1353 713V728M1185 764V792M1233 764V792M1214 792V806M1388 792V806M1448 764V792"/>
</g>
<g class="s" fill="#222">
<text x="1064" y="694" font-size="7">APPROVALS</text><text x="1131" y="694" font-size="7">DATE</text>
<text x="1038" y="707" font-size="7">ENG:</text><text x="1047" y="722" font-size="7">Yiang Gong &amp; Jianxu Chai</text>
<text x="1038" y="719" font-size="7">DSN:</text><text x="1047" y="735" font-size="7">Yiang Gong &amp; Jianxu Chai</text>
<text x="1038" y="733" font-size="7">CHK:</text>
<text x="1059" y="749" font-size="7">REFERENCE DOCUMENTS</text>
<text x="1038" y="761" font-size="7">BOM:</text><text x="1038" y="774" font-size="7">ASSY DWG:</text><text x="1038" y="787" font-size="7">FAB DWG:</text><text x="1038" y="801" font-size="7">PCB DWG:</text>
<text x="1161" y="690" font-size="7">PROJECT</text><text x="1163" y="708" font-size="9.5">ESE516</text>
<text x="1161" y="722" font-size="7">PROJECT REVISION:</text><text x="1257" y="722" font-size="7">DOCUMENT REVISION:</text><text x="1355" y="722" font-size="7">DESIGN ITEM:</text>
<text x="1161" y="736" font-size="7">TITLE</text>
<text x="1183" y="757" font-size="18">Main Schematics</text>
<text x="1166" y="771" font-size="7">SIZE</text><text x="1190" y="771" font-size="7">CAGE CODE</text><text x="1236" y="771" font-size="7">DWG NO.</text><text x="1455" y="771" font-size="7">REV</text>
<text x="1167" y="790" font-size="16">B</text><text x="1451" y="787" font-size="10">1.0</text>
<text x="1161" y="801" font-size="7">SCALE:</text><text x="1216" y="801" font-size="7">FILE NAME</text><text x="1255" y="803" font-size="10">MAIN.SchDoc</text>
<text x="1390" y="801" font-size="7">SHEET</text><text x="1418" y="803" font-size="9">1</text><text x="1441" y="801" font-size="7">OF</text><text x="1454" y="803" font-size="9">7</text>
<text x="1398" y="690" font-size="7">200 S</text><text x="1396" y="699" font-size="7">33rd St</text><text x="1380" y="707" font-size="7">Philadelphia</text><text x="1383" y="714" font-size="7">PA, 19104</text>
</g>
<rect x="1226" y="684" width="22" height="5" fill="#a01818"/>
<path d="M1228 692l8-4 8 4-8 10z" fill="#1a2a6a"/>
<text x="1252" y="697" font-size="15" fill="#1a2a6a">Penn</text>
<text x="1252" y="709" font-size="12" fill="#1a2a6a">Engineering</text>
</svg>
</body></html>
